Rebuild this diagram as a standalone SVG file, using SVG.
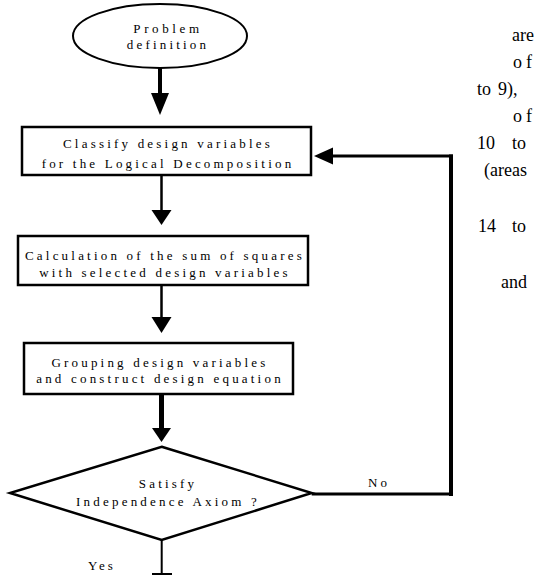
<svg xmlns="http://www.w3.org/2000/svg" width="540" height="575" viewBox="0 0 540 575">
<style>
.box{fill:#fff;stroke:#000;stroke-width:2.5}
.t{font-family:"Liberation Serif","Times New Roman",serif;font-size:13px;letter-spacing:3.2px;fill:#000;text-anchor:middle}
.l{font-family:"Liberation Serif","Times New Roman",serif;font-size:13px;letter-spacing:3px;fill:#000}
.r{font-family:"Liberation Serif","Times New Roman",serif;font-size:18px;fill:#000}
.ln{fill:none;stroke:#000}
.ah{fill:#000;stroke:none}
</style>
<rect width="540" height="575" fill="#fff"/>
<g id="connectors">
<line class="ln" x1="160" y1="68" x2="160" y2="95" stroke-width="4"/>
<polygon class="ah" points="151,93 169,93 160,115"/>
<line class="ln" x1="161.5" y1="175" x2="161.5" y2="211" stroke-width="2.5"/>
<polygon class="ah" points="151.5,210 171.5,210 161.5,225"/>
<line class="ln" x1="161.5" y1="285" x2="161.5" y2="318" stroke-width="2.5"/>
<polygon class="ah" points="151.5,317 171.5,317 161.5,333"/>
<line class="ln" x1="161.5" y1="394" x2="161.5" y2="429" stroke-width="5"/>
<polygon class="ah" points="152,428 171,428 161.5,442"/>
<line class="ln" x1="161.7" y1="540" x2="161.7" y2="574" stroke-width="2"/>
<line class="ln" x1="152" y1="574" x2="172" y2="574" stroke-width="2"/>
<polyline class="ln" points="311.7,494 451,494" stroke-width="3"/>
<line class="ln" x1="451" y1="496" x2="451" y2="154.5" stroke-width="4"/>
<line class="ln" x1="453" y1="156" x2="330" y2="156" stroke-width="3"/>
<polygon class="ah" points="314,156 333,147.5 333,164.5"/>
<text class="l" x="368" y="487">No</text>
<text class="l" x="88" y="570">Yes</text>
</g>
<g id="start">
<ellipse cx="160" cy="36" rx="87" ry="32" fill="#fff" stroke="#000" stroke-width="2"/>
<text class="t" x="168" y="33" style="letter-spacing:3.6px">Problem</text>
<text class="t" x="168" y="49">definition</text>
</g>
<g id="classify">
<rect class="box" x="22" y="127" width="289" height="48"/>
<text class="t" x="168" y="148">Classify design variables</text>
<text class="t" x="168" y="168">for the Logical Decomposition</text>
</g>
<g id="calc">
<rect class="box" x="18" y="236" width="290" height="49"/>
<text class="t" x="165" y="260">Calculation of the sum of squares</text>
<text class="t" x="165" y="277">with selected design variables</text>
</g>
<g id="grouping">
<rect class="box" x="24" y="343" width="269" height="51"/>
<text class="t" x="160" y="367">Grouping design variables</text>
<text class="t" x="160" y="383">and construct design equation</text>
</g>
<g id="decision">
<polygon class="box" points="161.7,446.7 311.7,493 161.7,540 10,493"/>
<text class="t" x="168" y="488">Satisfy</text>
<text class="t" x="168" y="506">Independence Axiom ?</text>
</g>
<g id="sidetext">
<text class="r" x="512" y="41">are</text>
<text class="r" x="513" y="68" style="letter-spacing:4px">of</text>
<text class="r" x="477" y="95">to</text><text class="r" x="498" y="95">9),</text>
<text class="r" x="513" y="122" style="letter-spacing:4px">of</text>
<text class="r" x="477" y="149">10</text><text class="r" x="512" y="149">to</text>
<text class="r" x="484" y="176">(areas</text>
<text class="r" x="478" y="232">14</text><text class="r" x="512" y="232">to</text>
<text class="r" x="501" y="288">and</text>
</g>
</svg>
